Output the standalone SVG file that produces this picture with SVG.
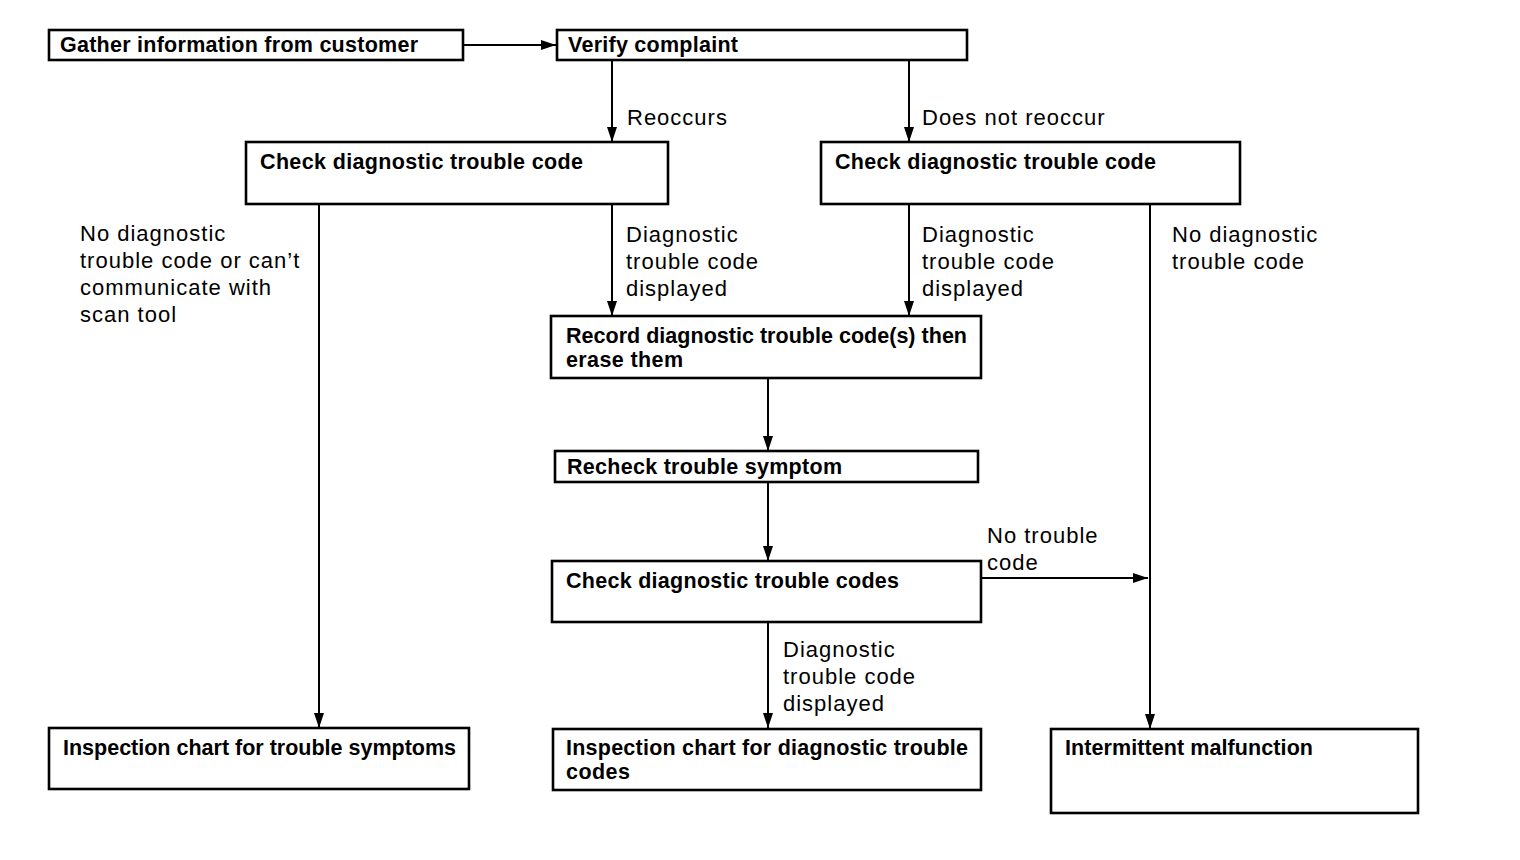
<svg xmlns="http://www.w3.org/2000/svg" width="1520" height="860" viewBox="0 0 1520 860">
<style>
.box{fill:#fff;stroke:#000;stroke-width:2.6}
.bt{font-family:"Liberation Sans",Arial,sans-serif;font-weight:bold;font-size:21.5px;fill:#000}
.lt{font-family:"Liberation Sans",Arial,sans-serif;font-size:22px;letter-spacing:1px;fill:#000}
.ln{fill:none;stroke:#000;stroke-width:2}
</style>
<defs>
<marker id="ah" markerUnits="userSpaceOnUse" markerWidth="15" markerHeight="11" refX="15" refY="5.5" orient="auto">
<path d="M0,0.5 L15,5.5 L0,10.5 z" fill="#000"/>
</marker>
</defs>
<rect width="1520" height="860" fill="#fff"/>
<g id="connectors">
<line class="ln" x1="463" y1="45" x2="556" y2="45" marker-end="url(#ah)"/>
<line class="ln" x1="612" y1="60" x2="612" y2="142" marker-end="url(#ah)"/>
<line class="ln" x1="909" y1="60" x2="909" y2="142" marker-end="url(#ah)"/>
<line class="ln" x1="319" y1="204" x2="319" y2="728" marker-end="url(#ah)"/>
<line class="ln" x1="612" y1="204" x2="612" y2="316" marker-end="url(#ah)"/>
<line class="ln" x1="909" y1="204" x2="909" y2="316" marker-end="url(#ah)"/>
<line class="ln" x1="1150" y1="204" x2="1150" y2="729" marker-end="url(#ah)"/>
<line class="ln" x1="768" y1="378" x2="768" y2="451" marker-end="url(#ah)"/>
<line class="ln" x1="768" y1="482" x2="768" y2="561" marker-end="url(#ah)"/>
<line class="ln" x1="981" y1="578" x2="1148" y2="578" marker-end="url(#ah)"/>
<line class="ln" x1="768" y1="622" x2="768" y2="728" marker-end="url(#ah)"/>
<text class="lt" x="627" y="125">Reoccurs</text>
<text class="lt" x="922" y="125">Does not reoccur</text>
<text class="lt"><tspan x="80" y="241">No diagnostic</tspan><tspan x="80" y="268">trouble code or can’t</tspan><tspan x="80" y="295">communicate with</tspan><tspan x="80" y="322">scan tool</tspan></text>
<text class="lt"><tspan x="626" y="242">Diagnostic</tspan><tspan x="626" y="269">trouble code</tspan><tspan x="626" y="296">displayed</tspan></text>
<text class="lt"><tspan x="922" y="242">Diagnostic</tspan><tspan x="922" y="269">trouble code</tspan><tspan x="922" y="296">displayed</tspan></text>
<text class="lt"><tspan x="1172" y="242">No diagnostic</tspan><tspan x="1172" y="269">trouble code</tspan></text>
<text class="lt"><tspan x="987" y="543">No trouble</tspan><tspan x="987" y="570">code</tspan></text>
<text class="lt"><tspan x="783" y="657">Diagnostic</tspan><tspan x="783" y="684">trouble code</tspan><tspan x="783" y="711">displayed</tspan></text>
</g>
<g id="n-gather"><rect class="box" x="49" y="30" width="414" height="30"/><text class="bt" x="60" y="52" textLength="358" lengthAdjust="spacing">Gather information from customer</text></g>
<g id="n-verify"><rect class="box" x="557" y="30" width="410" height="30"/><text class="bt" x="568" y="52" textLength="170" lengthAdjust="spacing">Verify complaint</text></g>
<g id="n-check1"><rect class="box" x="246" y="142" width="422" height="62"/><text class="bt" x="260" y="169" textLength="323" lengthAdjust="spacing">Check diagnostic trouble code</text></g>
<g id="n-check2"><rect class="box" x="821" y="142" width="419" height="62"/><text class="bt" x="835" y="169" textLength="321" lengthAdjust="spacing">Check diagnostic trouble code</text></g>
<g id="n-record"><rect class="box" x="551" y="316" width="430" height="62"/><text class="bt" x="566" y="343" textLength="401" lengthAdjust="spacing">Record diagnostic trouble code(s) then</text><text class="bt" x="566" y="367" textLength="117" lengthAdjust="spacing">erase them</text></g>
<g id="n-recheck"><rect class="box" x="555" y="451" width="423" height="31"/><text class="bt" x="567" y="474" textLength="275" lengthAdjust="spacing">Recheck trouble symptom</text></g>
<g id="n-check3"><rect class="box" x="552" y="561" width="429" height="61"/><text class="bt" x="566" y="588" textLength="333" lengthAdjust="spacing">Check diagnostic trouble codes</text></g>
<g id="n-insp-sym"><rect class="box" x="49" y="728" width="420" height="61"/><text class="bt" x="63" y="755" textLength="393" lengthAdjust="spacing">Inspection chart for trouble symptoms</text></g>
<g id="n-insp-dtc"><rect class="box" x="553" y="729" width="428" height="61"/><text class="bt" x="566" y="755" textLength="402" lengthAdjust="spacing">Inspection chart for diagnostic trouble</text><text class="bt" x="566" y="779" textLength="64" lengthAdjust="spacing">codes</text></g>
<g id="n-intermittent"><rect class="box" x="1051" y="729" width="367" height="84"/><text class="bt" x="1065" y="755" textLength="248" lengthAdjust="spacing">Intermittent malfunction</text></g>
</svg>
